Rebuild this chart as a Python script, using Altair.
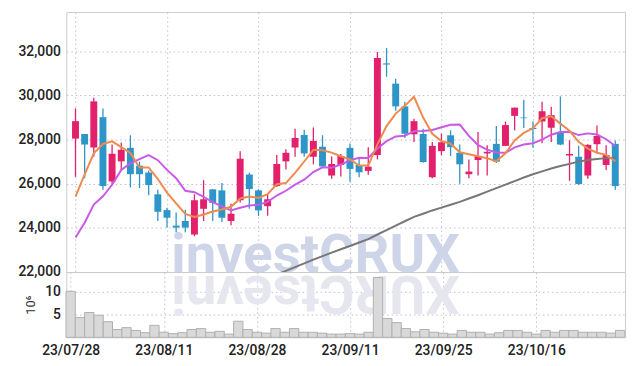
import json
import altair as alt
import pandas as pd

dates = ["23/07/28", "23/07/31", "23/08/01", "23/08/02", "23/08/03", "23/08/04", "23/08/07", "23/08/08", "23/08/09", "23/08/10",
         "23/08/11", "23/08/14", "23/08/16", "23/08/17", "23/08/18", "23/08/21", "23/08/22", "23/08/23", "23/08/24", "23/08/25",
         "23/08/28", "23/08/29", "23/08/30", "23/08/31", "23/09/01", "23/09/04", "23/09/05", "23/09/06", "23/09/07", "23/09/08",
         "23/09/11", "23/09/12", "23/09/13", "23/09/14", "23/09/15", "23/09/18", "23/09/19", "23/09/20", "23/09/21", "23/09/22",
         "23/09/25", "23/09/26", "23/09/27", "23/10/04", "23/10/05", "23/10/06", "23/10/10", "23/10/11", "23/10/12", "23/10/13",
         "23/10/16", "23/10/17", "23/10/18", "23/10/19", "23/10/20", "23/10/23", "23/10/24", "23/10/25", "23/10/26", "23/10/27"]

opens = [28044, 28253, 27640, 29014, 26103, 27013, 27625, 26819, 26506, 25520,
         24804, 24102, 24311, 23699, 24864, 25744, 25699, 24311, 25252, 26416,
         25700, 24983, 25894, 27013, 27640, 28208, 27222, 27670, 26371, 26850,
         27624, 26850, 26582, 27298, 31450, 30533, 29503, 28238, 28253, 26295,
         27476, 28193, 27402, 26431, 27073, 27372, 27805, 27715, 29074, 28999,
         28530, 28820, 28536, 28342, 27282, 27222, 26371, 27790, 26850, 27805]
highs = [29417, 28253, 29895, 29402, 27775, 27864, 28193, 26998, 26595, 25730,
         24908, 24699, 24819, 25520, 26162, 25760, 26029, 25088, 27476, 26500,
         25750, 25505, 27297, 27566, 28491, 28447, 28551, 28193, 27237, 27350,
         27817, 27118, 27655, 31964, 32143, 30756, 29714, 28939, 28491, 27893,
         28268, 28417, 27775, 27103, 28342, 27745, 28611, 28820, 29450, 29805,
         28819, 29716, 29492, 29955, 27969, 27715, 27790, 28641, 27745, 27954]
lows = [26312, 26252, 27222, 25730, 25924, 26610, 25834, 25804, 25476, 24311,
        24013, 23803, 23803, 23624, 24311, 24311, 24266, 24117, 25150, 24864,
        24540, 24550, 25850, 26640, 27222, 27222, 26879, 26750, 26222, 26327,
        26089, 26295, 26403, 27101, 30846, 29311, 28072, 27894, 26950, 26250,
        27297, 27252, 26000, 26252, 26371, 26371, 26939, 27700, 28417, 28521,
        27624, 27834, 27894, 27750, 26132, 25950, 26222, 27446, 26625, 25730]
closes = [28835, 27775, 29731, 25894, 27357, 27536, 26431, 26431, 25938, 24729,
          24461, 24013, 24013, 25252, 25296, 25132, 24461, 24640, 27133, 25759,
          24792, 25296, 26894, 27402, 28073, 27372, 27939, 26775, 26894, 27252,
          26671, 26519, 26774, 31696, 31400, 29503, 28264, 28835, 26983, 27714,
          27879, 27655, 26879, 26550, 27252, 27446, 26998, 28656, 29447, 28969,
          28480, 29283, 29104, 27775, 27342, 25983, 27760, 28163, 27297, 25894]
volumes = [10.0, 4.3, 5.4, 4.8, 3.4, 1.7, 2.1, 1.5, 1.0, 2.6,
           1.1, 0.8, 1.0, 1.7, 1.9, 1.1, 1.3, 0.7, 3.5, 1.7,
           1.1, 0.9, 1.9, 1.1, 1.9, 1.1, 1.1, 0.9, 0.7, 0.7,
           0.8, 0.7, 1.1, 13.0, 4.1, 3.2, 1.9, 1.2, 1.7, 1.1,
           0.9, 0.7, 1.5, 1.1, 1.1, 0.7, 1.0, 1.5, 1.5, 1.1,
           0.7, 1.5, 1.1, 1.5, 1.5, 1.1, 1.1, 1.1, 0.9, 1.5]
ma5 = [25420, 26420, 27380, 27800, 27918, 27659, 27390, 26730, 26739, 26213,
       25598, 25114, 24631, 24494, 24607, 24741, 24831, 24956, 25332, 25425,
       25357, 25524, 25975, 26029, 26491, 27007, 27536, 27512, 27411, 27246,
       27106, 26822, 26822, 27782, 28612, 29178, 29527, 29940, 28997, 28260,
       27935, 27813, 27422, 27335, 27243, 27156, 27025, 27380, 27960, 28303,
       28510, 28967, 29057, 28722, 28397, 27897, 27593, 27405, 27309, 27019]
ma10 = [23565, 24236, 25058, 25430, 25953, 26625, 26924, 27118, 27297, 27066,
        26628, 26252, 25680, 25616, 25410, 25170, 24973, 24794, 24913, 25016,
        25049, 25177, 25466, 25681, 25958, 26182, 26530, 26744, 26720, 26869,
        27057, 27179, 27167, 27597, 27929, 28142, 28175, 28381, 28390, 28436,
        28557, 28670, 28681, 28166, 27751, 27546, 27419, 27401, 27648, 27773,
        27833, 27996, 28219, 28341, 28350, 28204, 28280, 28231, 28016, 27708]
ma60_start = 22
ma60 = [21900, 22050, 22220, 22390, 22560, 22720, 22880, 23030, 23180, 23340,
        23494, 23700, 23900, 24100, 24300, 24500, 24640, 24790, 24920, 25050,
        25180, 25330, 25480, 25640, 25800, 25960, 26120, 26280, 26430, 26560,
        26690, 26800, 26900, 27000, 27070, 27120, 27160, 27180]
tick_idx = [0, 10, 20, 30, 40, 50]
price_ticks = [22000, 24000, 26000, 28000, 30000, 32000]
vol_ticks = [5, 10]

RED = "#e3206b"
BLUE = "#2e95c8"
ORANGE = "#ef8a4e"
PURPLE = "#c95ae8"
GRAY = "#777777"
FONT = "Roboto"

df = pd.DataFrame({"i": list(range(len(dates))), "date": dates, "open": opens, "high": highs,
                   "low": lows, "close": closes, "vol": volumes, "ma5": ma5, "ma10": ma10})
df60 = pd.DataFrame({"i": list(range(ma60_start, ma60_start + len(ma60))), "ma60": ma60})

xscale = alt.Scale(domain=[-0.46, 59.53], nice=False, zero=False)
yscale = alt.Scale(domain=[22000, 33780], nice=False, zero=False)
vscale = alt.Scale(domain=[0, 14.2], nice=False, zero=False)

label_expr = json.dumps([dates[k] for k in tick_idx]).replace('"', "'") + "[round(datum.value / 10)]"

x_price = alt.X("i:Q", scale=xscale,
                axis=alt.Axis(values=tick_idx, labels=False, title=None, grid=True,
                              minExtent=0, maxExtent=0))
y_axis = alt.Axis(values=price_ticks, format=",.0f", title=None, labelPadding=6,
                  minExtent=53, maxExtent=53, labelFlush=False, labelOverlap=False)

up = "datum.close >= datum.open"
col = alt.condition(up, alt.value(RED), alt.value(BLUE))
base = alt.Chart(df)

wm = alt.Chart(pd.DataFrame({"t": ["investCRUX"]})).mark_text(
    font="Roboto", fontSize=55, fontWeight="bold", color="#cfd5e8",
    align="center", baseline="alphabetic").encode(
    x=alt.value(252), y=alt.value(263), text="t:N")

wick = base.mark_rule(strokeWidth=1.3).encode(
    x=x_price, y=alt.Y("low:Q", scale=yscale, axis=y_axis), y2="high:Q", color=col)
body = base.mark_bar(size=7).encode(x=x_price, y="open:Q", y2="close:Q", color=col)
l5 = base.mark_line(color=ORANGE, strokeWidth=2).encode(x=x_price, y="ma5:Q")
l10 = base.mark_line(color=PURPLE, strokeWidth=2).encode(x=x_price, y="ma10:Q")
l60 = alt.Chart(df60).mark_line(color=GRAY, strokeWidth=2, clip=True).encode(x=x_price, y="ma60:Q")

price = alt.layer(wm, wick, body, l60, l10, l5).properties(width=565, height=263)

refl = alt.Chart(pd.DataFrame({"t": ["XURCtsevni"]})).mark_text(
    font="Roboto", fontSize=55, fontWeight="bold", color="#e6e6ef",
    align="center", baseline="alphabetic", angle=180).encode(
    x=alt.value(252), y=alt.value(4), text="t:N")

vbars = base.transform_calculate(x0="datum.i - 0.5", x1="datum.i + 0.5", z="0").mark_bar(
    fill="#d9d9d9", stroke="#b0b0b0", strokeWidth=1).encode(
    x=alt.X("x0:Q", scale=xscale,
            axis=alt.Axis(values=tick_idx, labelExpr=label_expr, title=None, grid=True,
                          labelPadding=6, labelFlush=False, labelOverlap=False)),
    x2="x1:Q",
    y=alt.Y("vol:Q", scale=vscale,
            axis=alt.Axis(values=vol_ticks, title="10⁶", titleX=-36, titleY=33, titleAngle=270,
                          titleFontSize=13, titleFontWeight="normal", titleColor="#333333",
                          titleFont=FONT, titleAlign="center", titleBaseline="middle",
                          labelPadding=6, minExtent=53, maxExtent=53,
                          labelFlush=False, labelOverlap=False)),
    y2="z:Q")

vol = alt.layer(refl, vbars).properties(width=565, height=66)

chart = alt.vconcat(price, vol, spacing=0, bounds="flush").properties(
    padding={"left": 5, "top": 1, "right": 5, "bottom": 5}
).configure_view(stroke="#cccccc", strokeWidth=1).configure_axis(
    labelFont=FONT, labelFontSize=14, labelFontWeight=500, labelColor="#222222",
    gridColor="#bcbcd8", gridDash=[1.5, 3], gridWidth=1,
    domain=False, ticks=False
)

chart.save("out.html", embed_options={"renderer": "svg", "actions": False})
